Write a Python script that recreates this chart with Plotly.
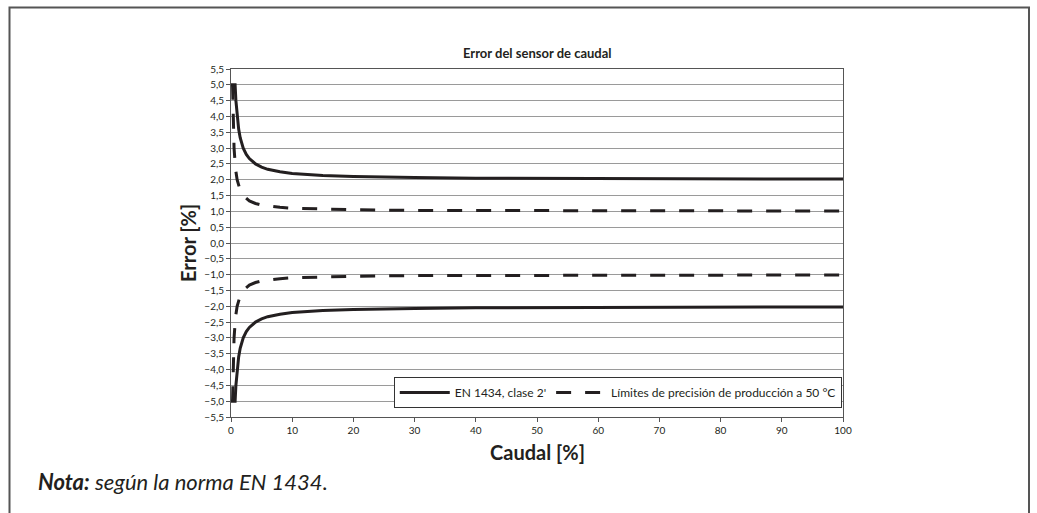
import plotly.graph_objects as go

# Caudal [%] sample points and error limits [%]
x_en = [0, 0.67, 0.8, 1, 1.25, 1.5, 2, 2.5, 3, 4, 5, 6, 8, 10, 12, 15, 20, 25, 30, 40, 50, 60, 70, 80, 90, 100]
en_upper = [5.0, 5.0, 4.5, 4.0, 3.6, 3.33, 3.0, 2.8, 2.67, 2.5, 2.4, 2.33, 2.25, 2.2, 2.17, 2.13, 2.1, 2.08,
            2.07, 2.05, 2.04, 2.03, 2.03, 2.03, 2.02, 2.02]
en_lower = [-5.0, -5.0, -4.5, -4.0, -3.6, -3.33, -3.0, -2.8, -2.67, -2.5, -2.4, -2.33, -2.25, -2.2, -2.17,
            -2.13, -2.1, -2.08, -2.07, -2.05, -2.04, -2.03, -2.03, -2.03, -2.02, -2.02]

x_prod = [0.25, 0.3, 0.4, 0.5, 0.75, 1, 1.5, 2, 3, 4, 5, 6, 8, 10, 15, 20, 30, 40, 50, 60, 70, 80, 90, 100]
prod_upper = [5.0, 4.33, 3.5, 3.0, 2.33, 2.0, 1.67, 1.5, 1.33, 1.25, 1.2, 1.17, 1.13, 1.1, 1.07, 1.05,
              1.03, 1.03, 1.02, 1.02, 1.01, 1.01, 1.01, 1.01]
prod_lower = [-5.0, -4.33, -3.5, -3.0, -2.33, -2.0, -1.67, -1.5, -1.33, -1.25, -1.2, -1.17, -1.13, -1.1,
              -1.07, -1.05, -1.03, -1.03, -1.02, -1.02, -1.01, -1.01, -1.01, -1.01]

series_names = ["EN 1434, clase 2'", "Límites de precisión de producción a 50 °C"]
title_text = "Error del sensor de caudal"
x_title = "Caudal [%]"
y_title = "Error [%]"
y_ticks = [-5.5, -5.0, -4.5, -4.0, -3.5, -3.0, -2.5, -2.0, -1.5, -1.0, -0.5, 0.0,
           0.5, 1.0, 1.5, 2.0, 2.5, 3.0, 3.5, 4.0, 4.5, 5.0, 5.5]
x_ticks = [0, 10, 20, 30, 40, 50, 60, 70, 80, 90, 100]

FONT = "Lato"
INK = "#231f20"

fig = go.Figure()
solid = dict(color=INK, width=3)
dashed = dict(color=INK, width=3, dash="15px,14px")
fig.add_trace(go.Scatter(x=x_en, y=en_upper, mode="lines", line=solid, name=series_names[0],
                         legendgroup="en", showlegend=True))
fig.add_trace(go.Scatter(x=x_prod, y=prod_upper, mode="lines", line=dashed, name=series_names[1],
                         legendgroup="prod", showlegend=True))
fig.add_trace(go.Scatter(x=x_en, y=en_lower, mode="lines", line=solid, name=series_names[0],
                         legendgroup="en", showlegend=False))
fig.add_trace(go.Scatter(x=x_prod, y=prod_lower, mode="lines", line=dashed, name=series_names[1],
                         legendgroup="prod", showlegend=False))

axis_common = dict(showline=True, linecolor="#555", linewidth=1, mirror=True,
                   ticks="outside", ticklen=4, tickcolor="#555",
                   tickfont=dict(family=FONT, size=10, color=INK), zeroline=False)

fig.update_xaxes(range=[0, 100], tickvals=x_ticks, showgrid=False, **axis_common)
fig.update_yaxes(range=[-5.5, 5.5], tickvals=y_ticks, tickformat=".1f", showgrid=True,
                 gridcolor="#9a9a9a", gridwidth=1, **axis_common)

# plot area sits at page x 231..843, y 69..417
fig.update_layout(
    width=1037, height=513,
    margin=dict(l=231, r=194, t=69, b=96),
    paper_bgcolor="white", plot_bgcolor="white",
    separators=",.",
    font=dict(family=FONT, color=INK),
    showlegend=True,
    legend=dict(orientation="h", x=0.998, y=0.026, xanchor="right", yanchor="bottom",
                bgcolor="white", bordercolor="#333", borderwidth=1,
                font=dict(family=FONT, size=12, color=INK), traceorder="normal",
                itemwidth=50),
    annotations=[
        dict(text="<b>" + title_text + "</b>", xref="paper", yref="paper", x=0.5, y=(417 - 53) / 348,
             xanchor="center", yanchor="middle", showarrow=False,
             font=dict(family=FONT, size=13, color=INK)),
        dict(text="<b>" + x_title + "</b>", xref="paper", yref="paper", x=0.5, y=(417 - 452) / 348,
             xanchor="center", yanchor="middle", showarrow=False,
             font=dict(family=FONT, size=20, color=INK)),
        dict(text="<b>" + y_title + "</b>", xref="paper", yref="paper", x=(188 - 231) / 612, y=0.5,
             xanchor="center", yanchor="middle", showarrow=False, textangle=-90,
             font=dict(family=FONT, size=20, color=INK)),
        dict(text="<b><i>Nota:</i></b><i> según la norma EN 1434.</i>", xref="paper", yref="paper",
             x=(36 - 231) / 612, y=(417 - 482) / 348, xanchor="left", yanchor="middle",
             showarrow=False, font=dict(family=FONT, size=22, color=INK)),
    ],
    shapes=[
        dict(type="rect", xref="paper", yref="paper",
             x0=(9.5 - 231) / 612, x1=(1029 - 231) / 612,
             y0=(417 - 530) / 348, y1=(417 - 7.5) / 348,
             line=dict(color="#555", width=2), fillcolor="rgba(0,0,0,0)", layer="below"),
    ],
)

fig.write_html("out.html", config={"displayModeBar": False},
               post_script="document.body.style.margin='0';document.body.style.overflow='hidden';")
